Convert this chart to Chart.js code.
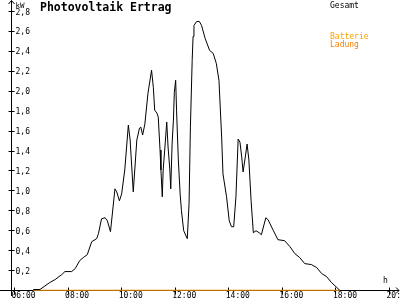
<!DOCTYPE html>
<html>
<head>
<meta charset="utf-8">
<script src="https://cdn.jsdelivr.net/npm/chart.js@4"></script>
<style>
html,body{margin:0;padding:0;background:#ffffff;}
canvas{display:block;}
</style>
</head>
<body>
<canvas id="c" width="400" height="300"></canvas>
<script>
const chartTitle = "Photovoltaik Ertrag";
const yUnit = "kW";
const xUnit = "h";
const seriesNames = ["Gesamt", "Batterie", "Ladung"];
const seriesColors = ["#000000", "#f5a300", "#f58000"];

const times = ["06:42","06:57","07:19","07:31","07:46","07:53","08:08","08:16","08:26","08:34",
  "08:43","08:53","09:04","09:08","09:15","09:23","09:28","09:35","09:45","09:49",
  "09:55","10:00","10:07","10:15","10:19","10:26","10:34","10:40","10:43","10:47",
  "10:52","10:59","11:07","11:11","11:14","11:19","11:22","11:26","11:28","11:31",
  "11:33","11:37","11:41","11:44","11:48","11:50","11:53","11:56","11:58","12:01",
  "12:03","12:07","12:11","12:14","12:19","12:27","12:31","12:34","12:38","12:40",
  "12:42","12:48","12:54","12:59","13:07","13:17","13:25","13:32","13:38","13:44",
  "13:47","13:55","14:01","14:06","14:11","14:16","14:21","14:25","14:29","14:32",
  "14:37","14:41","14:45","14:50","14:55","15:01","15:08","15:13","15:23","15:28",
  "15:40","15:50","16:05","16:17","16:28","16:39","16:50","17:05","17:17","17:28",
  "17:39","17:50","18:02","18:09"];
const gesamt = [0.01,0.01,0.08,0.11,0.16,0.19,0.19,0.22,0.30,0.33,
  0.36,0.49,0.52,0.57,0.72,0.73,0.70,0.59,1.02,0.99,
  0.90,0.97,1.21,1.66,1.51,0.99,1.51,1.63,1.64,1.56,
  1.67,1.98,2.21,2.04,1.81,1.78,1.74,1.41,1.21,0.94,
  1.21,1.44,1.69,1.44,1.21,1.02,1.47,1.71,1.99,2.11,
  1.81,1.31,0.97,0.80,0.60,0.52,0.87,1.64,2.31,2.55,
  2.66,2.70,2.70,2.66,2.53,2.41,2.38,2.28,2.11,1.54,
  1.17,0.94,0.70,0.64,0.64,0.94,1.52,1.49,1.34,1.19,
  1.34,1.47,1.31,0.90,0.58,0.60,0.58,0.56,0.73,0.71,
  0.60,0.51,0.50,0.44,0.37,0.33,0.27,0.26,0.23,0.17,
  0.14,0.08,0.03,0.00];

const batterieTimes = ["06:42","18:09"];
const batterie = [0, 0];
const ladung = [0, 0];

const xTickValues = [6, 8, 10, 12, 14, 16, 18, 20];
const xTickLabels = ["06:00","08:00","10:00","12:00","14:00","16:00","18:00","20:00"];
const yTickValues = [0.2,0.4,0.6,0.8,1.0,1.2,1.4,1.6,1.8,2.0,2.2,2.4,2.6,2.8];
const yTickLabels = ["0,2","0,4","0,6","0,8","1,0","1,2","1,4","1,6","1,8","2,0","2,2","2,4","2,6","2,8"];

function toHours(s){ const p = s.split(":"); return (+p[0]) + (+p[1]) / 60; }

const mono = '"DejaVu Sans Mono", "Liberation Mono", monospace';

const axesPlugin = {
  id: 'oldStyleAxes',
  beforeDatasetsDraw(chart) {
    const ctx = chart.ctx;
    const xs = chart.scales.x, ys = chart.scales.y;
    const y0 = Math.round(ys.getPixelForValue(0) - 0.5) + 0.5;
    const axX = Math.round(xs.getPixelForValue(6)) - 3.5;
    ctx.save();
    ctx.strokeStyle = '#000';
    ctx.lineWidth = 1;
    ctx.beginPath();
    // x axis with arrow
    ctx.moveTo(0, y0); ctx.lineTo(399, y0);
    ctx.moveTo(396, y0 - 3); ctx.lineTo(399, y0); ctx.lineTo(396, y0 + 3);
    // y axis with arrow
    ctx.moveTo(axX, 296); ctx.lineTo(axX, 0.5);
    ctx.moveTo(axX - 3, 4); ctx.lineTo(axX, 0.5); ctx.lineTo(axX + 3, 4);
    // x ticks
    xTickValues.forEach(v => {
      const px = Math.round(xs.getPixelForValue(v) - 0.5) + 0.5;
      ctx.moveTo(px, y0 - 3); ctx.lineTo(px, y0 + 4);
    });
    // y ticks
    yTickValues.forEach(v => {
      const py = Math.round(ys.getPixelForValue(v) - 0.5) + 0.5;
      ctx.moveTo(axX - 3, py); ctx.lineTo(axX + 3, py);
    });
    ctx.stroke();

    ctx.fillStyle = '#000';
    ctx.font = '8px ' + mono;
    ctx.textAlign = 'left';
    ctx.textBaseline = 'alphabetic';
    xTickValues.forEach((v, i) => {
      ctx.fillText(xTickLabels[i], xs.getPixelForValue(v) - 3, 297.5);
    });
    yTickValues.forEach((v, i) => {
      ctx.fillText(yTickLabels[i], axX + 4, ys.getPixelForValue(v) + 3);
    });
    ctx.font = '7.5px ' + mono;
    ctx.fillText(yUnit, axX + 4, 7.5);
    ctx.font = '8px ' + mono;
    ctx.fillText(xUnit, 383, 283);

    // title
    ctx.font = 'bold 11.5px ' + mono;
    ctx.fillText(chartTitle, 40, 11);

    // legend
    ctx.font = '8px ' + mono;
    const ds = chart.data.datasets;
    ctx.fillStyle = ds[0].borderColor; ctx.fillText(ds[0].label, 330, 7.5);
    ctx.fillStyle = ds[1].borderColor; ctx.fillText(ds[1].label, 330, 38.7);
    ctx.fillStyle = ds[2].borderColor; ctx.fillText(ds[2].label, 330, 46.7);
    ctx.restore();
  }
};

new Chart(document.getElementById('c'), {
  type: 'line',
  data: {
    datasets: [
      { label: seriesNames[0], data: times.map((t, i) => ({ x: toHours(t), y: gesamt[i] })),
        borderColor: seriesColors[0], borderWidth: 1, pointRadius: 0, tension: 0, fill: false },
      { label: seriesNames[1], data: batterieTimes.map((t, i) => ({ x: toHours(t), y: batterie[i] })),
        borderColor: seriesColors[1], borderWidth: 1, pointRadius: 0, tension: 0, fill: false },
      { label: seriesNames[2], data: batterieTimes.map((t, i) => ({ x: toHours(t), y: ladung[i] })),
        borderColor: seriesColors[2], borderWidth: 1.3, pointRadius: 0, tension: 0, fill: false }
    ]
  },
  options: {
    responsive: false,
    animation: false,
    layout: { padding: { left: 14.5, right: 10.5, top: 11.5, bottom: 9.5 } },
    scales: {
      x: { type: 'linear', min: 6, max: 20, display: false },
      y: { type: 'linear', min: 0, max: 2.8, display: false }
    },
    plugins: { legend: { display: false }, tooltip: { enabled: false }, title: { display: false } }
  },
  plugins: [axesPlugin]
});
</script>
</body>
</html>
